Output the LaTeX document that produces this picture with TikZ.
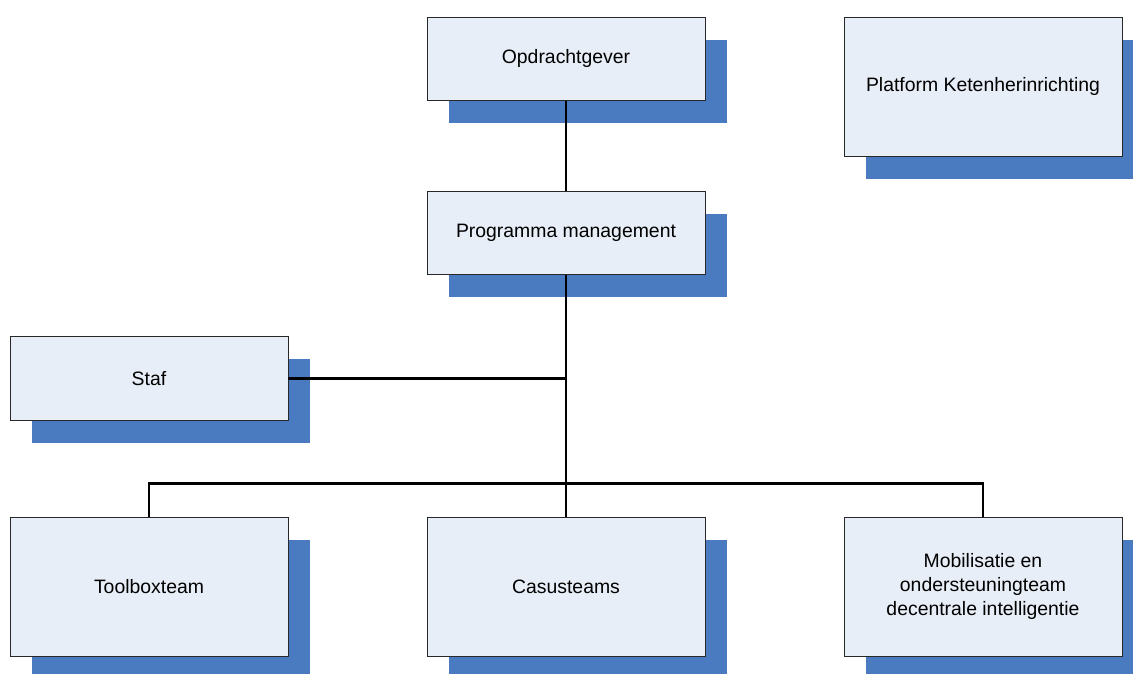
\documentclass[tikz,border=0pt]{standalone}
\usepackage{fontspec}
\setmainfont{Liberation Sans}
\usetikzlibrary{shadows}
\definecolor{boxfill}{RGB}{232,238,247}
\definecolor{boxshade}{RGB}{74,122,192}
\definecolor{boxline}{RGB}{40,40,40}
\tikzset{
  orgbox/.style={draw=boxline, line width=0.9pt, fill=boxfill, rectangle,
    minimum width=278pt, align=center, inner sep=2pt,
    font=\fontsize{19.4}{24}\selectfont,
    drop shadow={shadow xshift=22pt, shadow yshift=-22.5pt, opacity=1, fill=boxshade, draw=none}},
  smallbox/.style={orgbox, minimum height=83.5pt},
  bigbox/.style={orgbox, minimum height=139pt},
  link/.style={draw=black, line width=2.5pt}
}
\begin{document}
\begin{tikzpicture}[x=1pt, y=-1pt]
  \useasboundingbox (0,0) rectangle (1133,673);
  \clip (0,0) rectangle (1133,673);
  \node[smallbox] (opd) at (566,58.75) {Opdrachtgever};
  \node[bigbox] (plat) at (983,86.5) {Platform Ketenherinrichting};
  \node[smallbox] (prog) at (566,232.75) {Programma management};
  \node[smallbox] (staf) at (149,378.5) {Staf};
  \node[bigbox] (tool) at (149,586.75) {Toolboxteam};
  \node[bigbox] (cas) at (566,586.75) {Casusteams};
  \node[bigbox] (mob) at (983,586.75) {Mobilisatie en\\ondersteuningteam\\decentrale intelligentie};
  \coordinate (bus) at (566,483.3);
  \draw[link] (opd) -- (prog);
  \draw[link] (prog.south) -- (cas.north);
  \draw[link] (staf.east) -- (staf.east -| prog.south);
  \draw[link] (tool.north) |- (bus) -| (mob.north);
\end{tikzpicture}
\end{document}
